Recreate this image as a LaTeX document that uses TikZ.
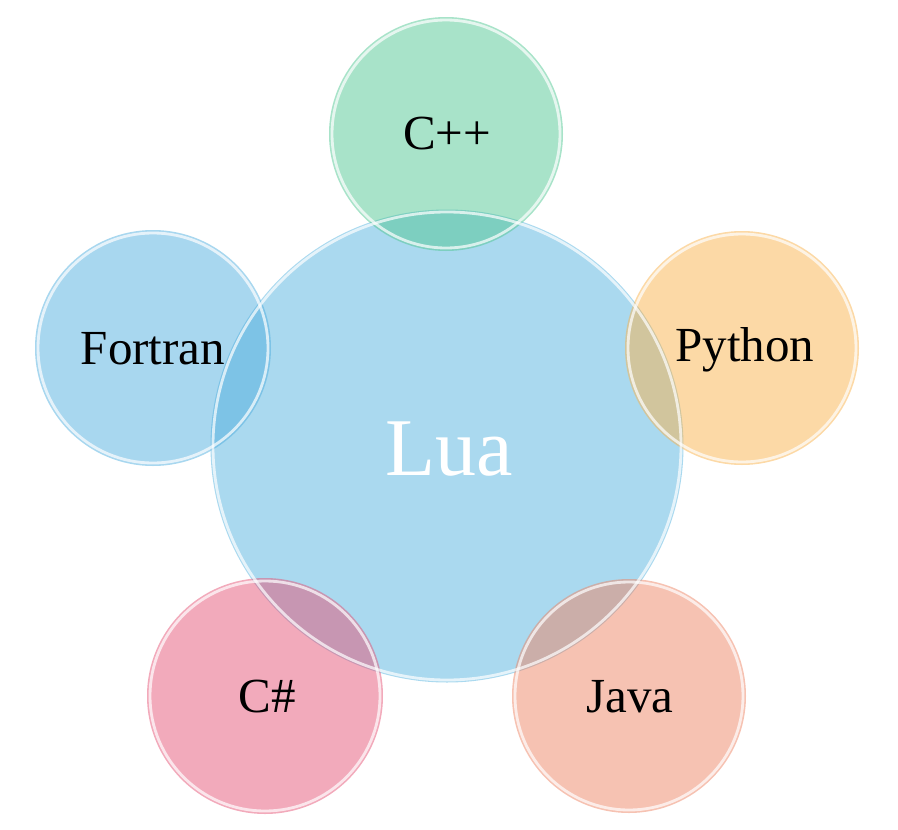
\documentclass[tikz,border=0pt]{standalone}
\usepackage{fontspec}
\setmainfont{Liberation Serif}
\definecolor{cmain}{RGB}{170,217,239}
\definecolor{ccpp}{RGB}{81,199,147}
\definecolor{cpy}{RGB}{249,179,77}
\definecolor{cfor}{RGB}{81,175,223}
\definecolor{ccs}{RGB}{229,85,119}
\definecolor{cjava}{RGB}{237,133,101}
\tikzset{
  bubble/.style={circle, minimum size=#1, inner sep=0pt, fill opacity=0.5},
  rim/.style={draw=white, draw opacity=0.7, line width=2.8pt},
  lbl/.style={font=\fontsize{49}{52}\selectfont, text=black},
}
\begin{document}
\begin{tikzpicture}[x=1pt,y=-1pt]
\useasboundingbox (0,0) rectangle (898,830);
% fills
\node[circle, minimum size=473pt, inner sep=0pt, fill=cmain] (lua) at (447,446) {};
\node[bubble=234pt, fill=ccpp] (cpp) at (446,134) {};
\node[bubble=234pt, fill=cpy] (py) at (742,348) {};
\node[bubble=236pt, fill=cfor] (fo) at (153,348) {};
\node[bubble=236pt, fill=ccs] (cs) at (265,696) {};
\node[bubble=234pt, fill=cjava] (ja) at (629,696) {};
% rims
\foreach \c/\r in {lua/234, cpp/114, py/114, fo/115, cs/115, ja/114}{
  \draw[rim] (\c.center) circle[radius=\r];
}
% labels
\node[lbl] (tcpp) at (447,134) {C++};
\node[lbl] (tfo) at (153,349) {Fortran};
\node[lbl] (tpy) at (745,350) {Python};
\node[lbl] (tcs) at (267,697) {C\#};
\node[lbl] (tja) at (630,697) {Java};
\node[font=\fontsize{82}{86}\selectfont, text=white] (tlua) at (449,449) {Lua};
\end{tikzpicture}
\end{document}
